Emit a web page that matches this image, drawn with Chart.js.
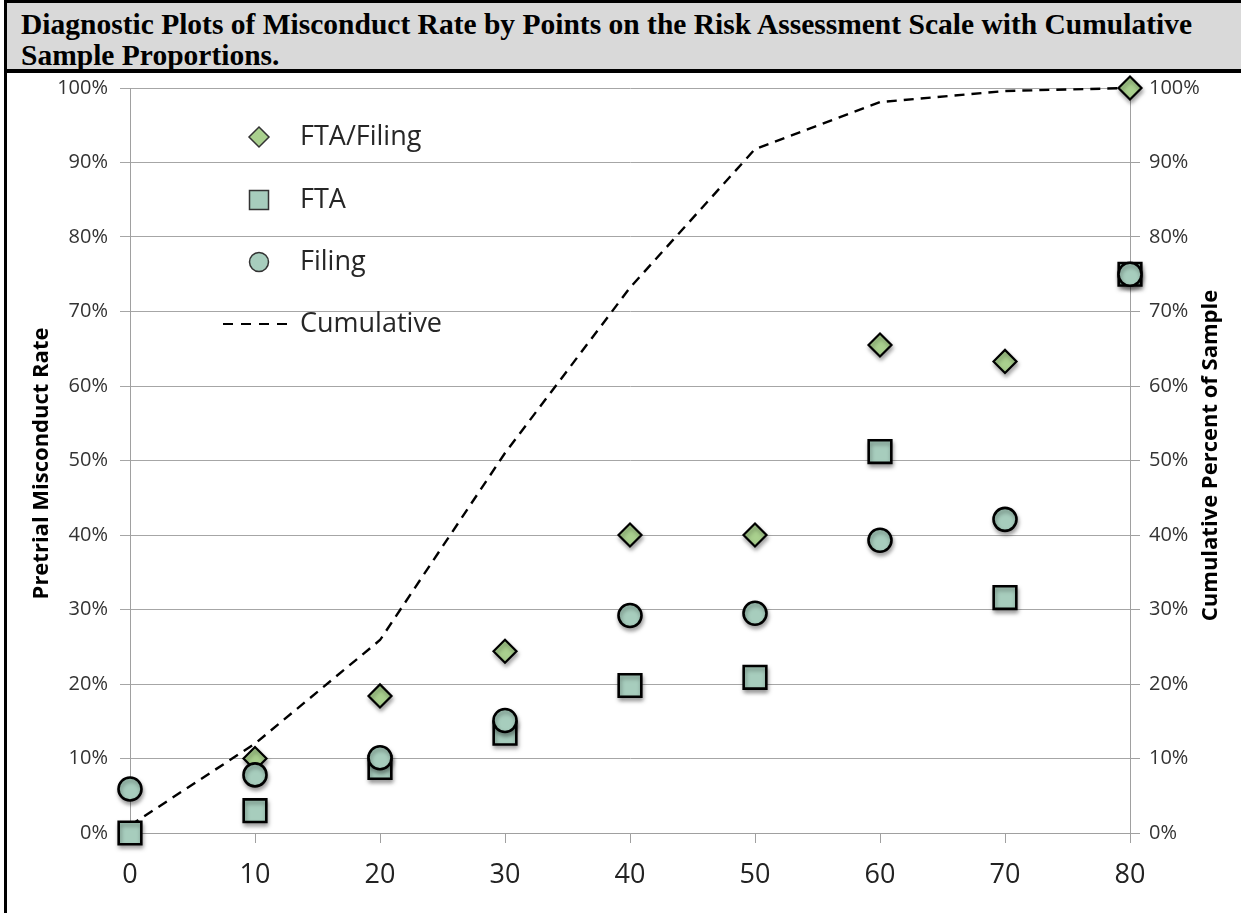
<!DOCTYPE html>
<html>
<head>
<meta charset="utf-8">
<title>Diagnostic Plots</title>
<script src="https://cdn.jsdelivr.net/npm/chart.js@4.4.1/dist/chart.umd.min.js"></script>
<style type="text/css">
body{ margin:0; background:#fff; width:1241px; height:913px; overflow:hidden; }
.frame{ position:absolute; left:4px; top:0; width:1237px; height:913px; border-left:3px solid #000; }
.head{ position:absolute; left:0; top:0; width:1237px; height:66px; background:#d9d9d9; border-top:3px solid #000; border-bottom:4px solid #000; }
.head div{ font-family:"Liberation Serif","Times New Roman",serif; font-weight:bold; font-size:29.5px; line-height:31px; color:#000; padding:6px 0 0 14px; white-space:nowrap; }
#chart{ position:absolute; left:0; top:64px; }
</style>
</head>
<body>
<div class="frame">
  <div class="head"><div>Diagnostic Plots of Misconduct Rate by Points on the Risk Assessment Scale with Cumulative<br>Sample Proportions.</div></div>
</div>
<canvas id="chart" width="1241" height="849"></canvas>

<script type="text/javascript">

var points = [0, 10, 20, 30, 40, 50, 60, 70, 80];
var ftaFiling = [null, 10.0, 18.4, 24.4, 40.0, 40.0, 65.5, 63.3, 100];
var fta = [0.0, 3.0, 8.8, 13.4, 19.8, 20.9, 51.2, 31.6, 75.0];
var filing = [5.9, 7.8, 10.1, 15.1, 29.2, 29.5, 39.3, 42.1, 75.0];
var cumulative = [1.0, 12.0, 25.9, 51.0, 73.2, 91.8, 98.1, 99.6, 100];

var leftTitle = "Pretrial Misconduct Rate";
var rightTitle = "Cumulative Percent of Sample";

var diamondFill = "#a9d08e";
var markerFill = "#a7cdbd";
var sans = "'Open Sans', 'Noto Sans', sans-serif";

function pairs(vals){
  var out = [];
  for (var i = 0; i < points.length; i++) {
    if (vals[i] !== null) out.push({x: points[i], y: vals[i]});
  }
  return out;
}

// markers get a soft drop shadow like the original
var shadowPlugin = {
  id: "shadow",
  beforeDatasetDraw: function(chart, args){
    var ctx = chart.ctx;
    ctx.save();
    if (chart.data.datasets[args.index].type === "scatter") {
      ctx.shadowColor = "rgba(0,0,0,0.35)";
      ctx.shadowBlur = 4;
      ctx.shadowOffsetX = 1;
      ctx.shadowOffsetY = 3;
    }
  },
  afterDatasetDraw: function(chart){
    chart.ctx.restore();
  }
};

var legendPlugin = {
  id: "insideLegend",
  afterDraw: function(chart){
    var ctx = chart.ctx;
    var a = chart.chartArea;
    var lx = a.left + 129, tx = a.left + 170;
    var rows = [a.top + 49, a.top + 112, a.top + 174, a.top + 236];
    ctx.save();
    ctx.lineWidth = 1.5;
    ctx.strokeStyle = "#333";
    // diamond
    ctx.fillStyle = diamondFill;
    ctx.beginPath();
    ctx.moveTo(lx, rows[0] - 10); ctx.lineTo(lx + 10, rows[0]); ctx.lineTo(lx, rows[0] + 10); ctx.lineTo(lx - 10, rows[0]); ctx.closePath();
    ctx.fill(); ctx.stroke();
    // square
    ctx.fillStyle = markerFill;
    ctx.beginPath(); ctx.rect(lx - 9.5, rows[1] - 9.5, 19, 19); ctx.fill(); ctx.stroke();
    // circle
    ctx.beginPath(); ctx.arc(lx, rows[2], 9.5, 0, Math.PI * 2); ctx.fill(); ctx.stroke();
    // dashes
    ctx.strokeStyle = "#000"; ctx.lineWidth = 2.2;
    ctx.setLineDash([10, 8]);
    ctx.beginPath(); ctx.moveTo(a.left + 93, rows[3]); ctx.lineTo(a.left + 160, rows[3]); ctx.stroke();
    ctx.setLineDash([]);
    ctx.fillStyle = "#262626";
    ctx.font = "27px " + sans;
    ctx.textBaseline = "middle";
    ctx.fillText("FTA/Filing", tx, rows[0]);
    ctx.fillText("FTA", tx, rows[1]);
    ctx.fillText("Filing", tx, rows[2]);
    ctx.fillText("Cumulative", tx, rows[3]);
    ctx.restore();
  }
};

// both axis titles read bottom-to-top
function sideTitle(ctx, text, x, y){
  ctx.save();
  ctx.fillStyle = "#000";
  ctx.font = "bold 22px " + sans;
  ctx.textAlign = "center";
  ctx.textBaseline = "middle";
  ctx.translate(x, y);
  ctx.rotate(-Math.PI / 2);
  ctx.fillText(text, 0, 0);
  ctx.restore();
}
var titlePlugin = {
  id: "axisTitles",
  afterDraw: function(chart){
    var a = chart.chartArea;
    var cy = (a.top + a.bottom) / 2;
    sideTitle(chart.ctx, leftTitle, 42, cy + 3);
    sideTitle(chart.ctx, rightTitle, a.right + 81, cy - 5);
  }
};

var pct = function(v){ return v + "%"; };

var ctx = document.getElementById("chart").getContext("2d");
window.chart = new Chart(ctx, {
  data: {
    datasets: [
      { type: "scatter", label: "Filing", data: pairs(filing), order: 0,
        pointStyle: "circle", pointRadius: 11.5, pointHoverRadius: 11.5,
        backgroundColor: markerFill, borderColor: "#000", borderWidth: 2.6, clip: false },
      { type: "scatter", label: "FTA", data: pairs(fta), order: 1,
        pointStyle: "rect", pointRadius: 16, pointHoverRadius: 16,
        backgroundColor: markerFill, borderColor: "#000", borderWidth: 2.6, clip: false },
      { type: "scatter", label: "FTA/Filing", data: pairs(ftaFiling), order: 2,
        pointStyle: "rectRot", pointRadius: 11.5, pointHoverRadius: 11.5,
        backgroundColor: diamondFill, borderColor: "#000", borderWidth: 2.2, clip: false },
      { type: "line", label: "Cumulative", data: pairs(cumulative), order: 3, yAxisID: "y2",
        borderColor: "#000", borderWidth: 2.4, borderDash: [10, 7], pointRadius: 0,
        tension: 0, fill: false, clip: false }
    ]
  },
  options: {
    responsive: false,
    animation: false,
    layout: { padding: { top: 6, left: 0, right: 0, bottom: 0 } },
    plugins: { legend: { display: false }, tooltip: { enabled: false } },
    scales: {
      x: {
        type: "linear", min: 0, max: 80,
        grid: { drawOnChartArea: false, drawTicks: true, tickLength: 10, color: "#a0a0a0" },
        border: { color: "#a0a0a0" },
        ticks: { stepSize: 10, padding: 16, color: "#222", font: { family: sans, size: 27 } },
        afterFit: function(s){ s.height = 80; }
      },
      y: {
        position: "left", min: 0, max: 100,
        grid: { color: "#a6a6a6", tickLength: 10 },
        border: { color: "#a0a0a0" },
        ticks: { stepSize: 10, padding: 12, color: "#333", callback: pct, font: { family: sans, size: 20 } },
        afterFit: function(s){ s.width = 130; }
      },
      y2: {
        position: "right", min: 0, max: 100,
        grid: { drawOnChartArea: false, tickLength: 10, color: "#a0a0a0" },
        border: { color: "#a0a0a0" },
        ticks: { stepSize: 10, padding: 9, color: "#333", callback: pct, font: { family: sans, size: 20 } },
        afterFit: function(s){ s.width = 111; }
      }
    }
  },
  plugins: [shadowPlugin, legendPlugin, titlePlugin]
});

</script>
</body>
</html>
